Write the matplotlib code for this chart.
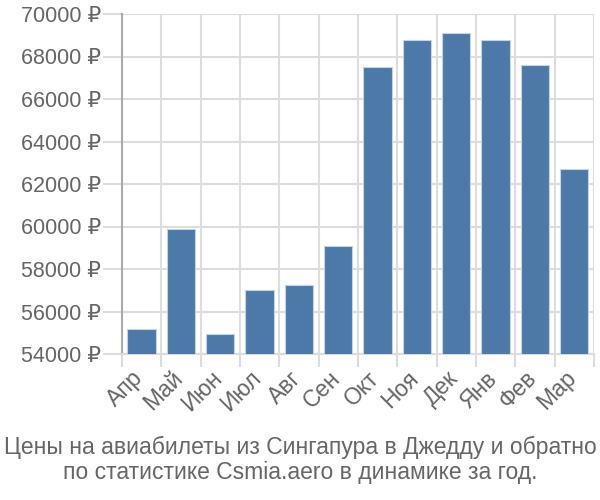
import numpy as np
import matplotlib.pyplot as plt
import matplotlib.transforms as mtransforms

plt.rcParams['font.family'] = ['Liberation Sans', 'DejaVu Sans']

# Data
months = ['Апр', 'Май', 'Июн', 'Июл', 'Авг', 'Сен', 'Окт', 'Ноя', 'Дек', 'Янв', 'Фев', 'Мар']
prices = [55200, 59900, 54950, 57000, 57250, 59100, 67500, 68800, 69100, 68800, 67600, 62700]
yticks = [54000, 56000, 58000, 60000, 62000, 64000, 66000, 68000, 70000]
title = 'Цены на авиабилеты из Сингапура в Джедду и обратно\nпо статистике Csmia.aero в динамике за год.'

fig = plt.figure(figsize=(6, 5), dpi=100)
ax = fig.add_axes([0.203, 0.292, 0.787, 0.680])

x = np.arange(len(months))
ax.bar(x, prices, width=0.72, color='#4d79a8', edgecolor='#c5d3e3', linewidth=0.8, zorder=3)

ax.set_xlim(-0.5, len(months) - 0.5)
ax.set_ylim(54000, 70000)

ax.set_yticks(yticks)
ax.set_yticklabels([f'{v} ₽' for v in yticks])
ax.set_xticks(x)
ax.set_xticklabels(months, rotation=45, ha='right', rotation_mode='anchor')
ax.set_xticks(np.arange(len(months) + 1) - 0.5, minor=True)

ax.grid(axis='y', color='#dddddd', linewidth=1.5, zorder=0)
ax.grid(axis='x', which='minor', color='#dddddd', linewidth=1.5, zorder=0)
ax.tick_params(axis='x', which='major', length=0, labelsize=16.5, colors='#666666', pad=9)
ax.tick_params(axis='x', which='minor', length=9, width=1.5, color='#dddddd')
ax.tick_params(axis='y', length=14, width=1.5, color='#dddddd', labelsize=15.5, labelcolor='#666666', pad=1)

# nudge the rotated month labels a bit to the left
shift = mtransforms.ScaledTranslation(-7 / 72, 0, fig.dpi_scale_trans)
for lbl in ax.get_xticklabels():
    lbl.set_transform(lbl.get_transform() + shift)

for s in ['top', 'right']:
    ax.spines[s].set_visible(False)
ax.spines['left'].set_color('#aaaaaa')
ax.spines['left'].set_linewidth(1.5)
ax.spines['bottom'].set_color('#dddddd')
ax.spines['bottom'].set_linewidth(1.5)

fig.text(0.5, 0.08, title, ha='center', va='center', fontsize=16.5, color='#666666', linespacing=1.15)

fig.savefig('out.png', dpi=100)
